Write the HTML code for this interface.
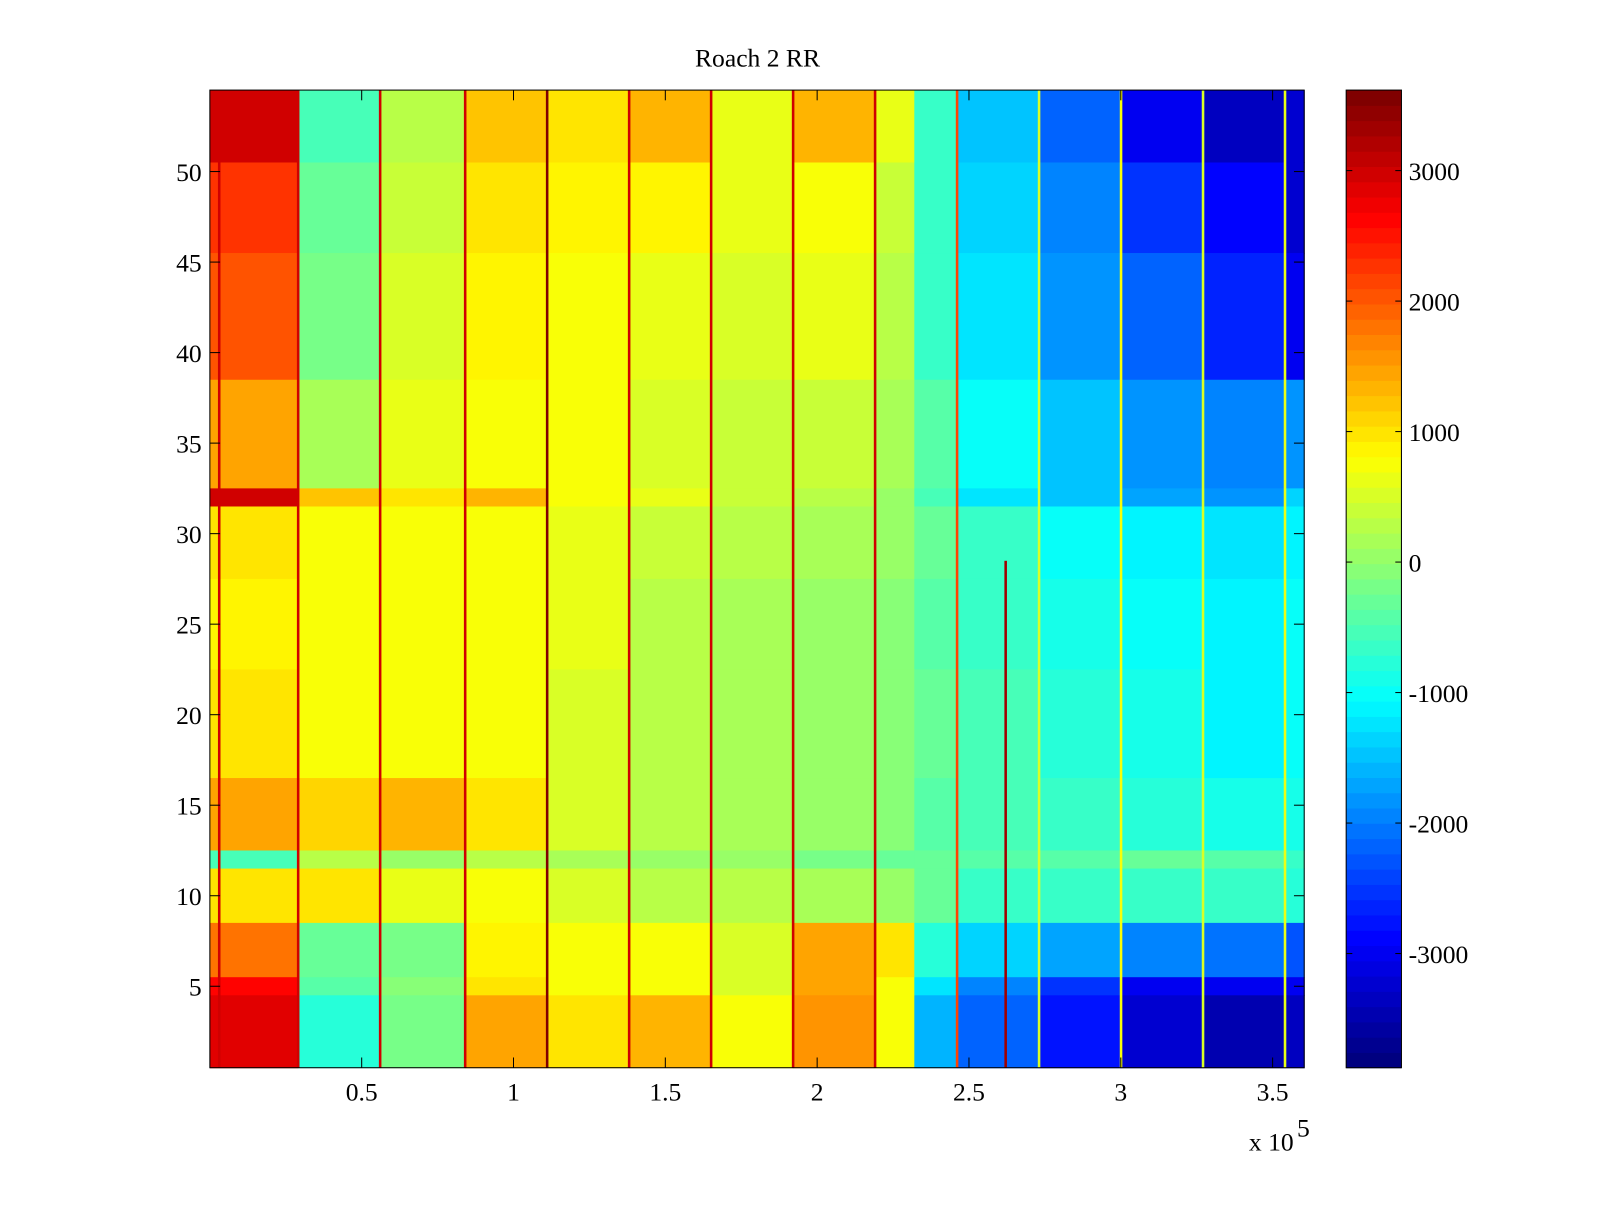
<!DOCTYPE html>
<html><head><meta charset="utf-8"><style>
html,body{margin:0;padding:0;background:#fff;}
svg text{font-family:"Liberation Serif",serif;font-size:25px;fill:#000;}
</style></head><body>
<svg id="chart" width="1600" height="1200" viewBox="0 0 1600 1200" xmlns="http://www.w3.org/2000/svg">
<rect width="1600" height="1200" fill="#fff"/>
<g transform="scale(1.0237)">
<text x="740" y="65" text-anchor="middle" font-size="28">Roach 2 RR</text>
<g id="cells"></g>
<g id="spikes"></g>
<g id="cbar"></g>
<g id="axes"></g>
</g>
</svg>
<script>
// x segment boundaries (units of 1e5)
const segEdges = [0, 0.29, 0.56, 0.84, 1.11, 1.38, 1.65, 1.92, 2.19, 2.32, 2.46, 2.73, 3.00, 3.27, 3.54, 3.604];
// row bands [first,last]
const rowBands = [[51,54],[46,50],[39,45],[33,38],[32,32],[28,31],[23,27],[17,22],[13,16],[12,12],[9,11],[6,8],[5,5],[1,4]];
const bandValues = [
 [3000,-500,300,1200,1000,1300,600,1300,600,-700,-1500,-2200,-3000,-3400,-3200],
 [2300,-300,400,1000,900,900,600,800,400,-700,-1300,-1900,-2500,-2900,-3200],
 [2000,-200,500,900,800,600,500,600,300,-600,-1200,-1800,-2200,-2700,-3000],
 [1500,200,600,800,700,500,400,400,200,-400,-1000,-1500,-1800,-2000,-1800],
 [3000,1200,1000,1300,800,600,400,300,100,-500,-1200,-1500,-1700,-1800,-1300],
 [1000,700,700,800,600,400,300,200,0,-300,-700,-1000,-1100,-1200,-1100],
 [900,700,700,800,600,300,200,0,-100,-400,-600,-900,-1000,-1100,-1000],
 [1000,800,800,700,500,300,200,0,-100,-300,-500,-800,-900,-1100,-1000],
 [1400,1100,1300,1000,500,300,200,100,-100,-400,-500,-700,-800,-900,-900],
 [-500,300,0,300,200,100,0,-200,-300,-300,-400,-400,-300,-400,-600],
 [1000,1000,600,800,500,300,300,200,100,-300,-600,-700,-600,-700,-800],
 [1800,-300,-200,900,700,700,500,1400,1000,-800,-1400,-1700,-1900,-2100,-2300],
 [2600,-400,-100,1000,800,800,500,1500,700,-1200,-2000,-2500,-3000,-3000,-3000],
 [2800,-800,-200,1500,1000,1300,700,1600,800,-1600,-2200,-2800,-3200,-3500,-3300]
];
const spikeX = [0.03,0.29,0.56,0.84,1.11,1.38,1.65,1.92,2.19,2.46,2.62,2.73,3.00,3.27,3.54];
const spikeVal = [3000,3000,3000,3000,3500,3000,3000,3000,3000,2200,3300,500,800,500,600];
const spikeTop = [54.5,54.5,54.5,54.5,54.5,54.5,54.5,54.5,54.5,54.5,28.5,54.5,54.5,54.5,54.5];
const xTicks = [0.5,1,1.5,2,2.5,3,3.5];
const yTicks = [5,10,15,20,25,30,35,40,45,50];
const cTicks = [-3000,-2000,-1000,0,1000,2000,3000];

const NS="http://www.w3.org/2000/svg";
const PX0=205,PX1=1274,PY0=88,PY1=1043;
const XMAX=3.604, YMIN=0.5, YMAX=54.5, CMIN=-3875, CMAX=3617;
const xs=v=>PX0+(v/XMAX)*(PX1-PX0);
const ys=v=>PY1-(v-YMIN)/(YMAX-YMIN)*(PY1-PY0);
function jet(v){
  let t=(v-CMIN)/(CMAX-CMIN); t=Math.max(0,Math.min(1,t));
  t=Math.min(63,Math.floor(t*64))/63;
  const c=x=>Math.round(255*Math.max(0,Math.min(1,x)));
  return `rgb(${c(1.5-Math.abs(4*t-3))},${c(1.5-Math.abs(4*t-2))},${c(1.5-Math.abs(4*t-1))})`;
}
function mk(tag,attrs,parent){const e=document.createElementNS(NS,tag);for(const k in attrs)e.setAttribute(k,attrs[k]);parent.appendChild(e);return e;}
const cells=document.getElementById('cells');
rowBands.forEach((b,bi)=>{
  for(let s=0;s<segEdges.length-1;s++){
    const x0=xs(segEdges[s]),x1=xs(segEdges[s+1]);
    const y0=ys(b[1]+0.5),y1=ys(b[0]-0.5);
    const r=mk('rect',{x:x0,y:y0,width:x1-x0+0.5,height:y1-y0+0.5,fill:jet(bandValues[bi][s])},cells);
    
    
  }
});
const spikes=document.getElementById('spikes');
spikeX.forEach((x,i)=>{
  const r=mk('rect',{x:xs(x)-1,y:ys(spikeTop[i]),width:2.5,height:PY1-ys(spikeTop[i]),fill:jet(spikeVal[i])},spikes);
  
  
});
const cb=document.getElementById('cbar');
const CX0=1315,CX1=1369;
const cy=v=>PY1-(v-CMIN)/(CMAX-CMIN)*(PY1-PY0);
for(let i=0;i<64;i++){
  const v0=CMIN+(CMAX-CMIN)*i/64, v1=CMIN+(CMAX-CMIN)*(i+1)/64;
  const r=mk('rect',{x:CX0,y:cy(v1),width:CX1-CX0,height:cy(v0)-cy(v1)+0.5,fill:jet((v0+v1)/2)},cb);
  
  
}
mk('rect',{x:CX0,y:PY0,width:CX1-CX0,height:PY1-PY0,fill:'none',stroke:'#000','stroke-width':1},cb);
cTicks.forEach(v=>{
  const y=cy(v);
  mk('line',{x1:CX0,x2:CX0+6,y1:y,y2:y,stroke:'#000'},cb);
  mk('line',{x1:CX1-6,x2:CX1,y1:y,y2:y,stroke:'#000'},cb);
  const t=mk('text',{x:CX1+7,y:y+9},cb);t.textContent=String(v);
  
  
});
const ax=document.getElementById('axes');
mk('rect',{x:PX0,y:PY0,width:PX1-PX0,height:PY1-PY0,fill:'none',stroke:'#000','stroke-width':1},ax);
xTicks.forEach(v=>{
  const x=xs(v);
  mk('line',{x1:x,x2:x,y1:PY1,y2:PY1-10,stroke:'#000'},ax);
  mk('line',{x1:x,x2:x,y1:PY0,y2:PY0+10,stroke:'#000'},ax);
  const t=mk('text',{x:x,y:PY1+32,'text-anchor':'middle'},ax);t.textContent=String(v);
  
  
});
yTicks.forEach(v=>{
  const y=ys(v);
  mk('line',{x1:PX0,x2:PX0+10,y1:y,y2:y,stroke:'#000'},ax);
  mk('line',{x1:PX1-10,x2:PX1,y1:y,y2:y,stroke:'#000'},ax);
  const t=mk('text',{x:PX0-8,y:y+9,'text-anchor':'end'},ax);t.textContent=String(v);
  
  
});
const ex=mk('text',{x:1220,y:1124},ax);


ex.textContent='x 10';
const sup=mk('text',{x:1267,y:1110,'font-size':'17'},ax);sup.textContent='5';
</script>
</body></html>
